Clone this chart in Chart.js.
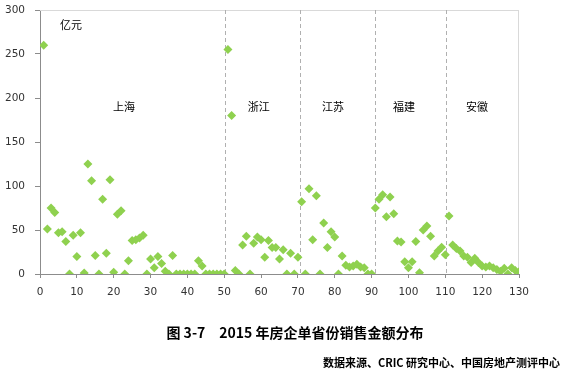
<!DOCTYPE html>
<html lang="zh-CN">
<head>
<meta charset="UTF-8">
<title>2015 年房企单省份销售金额分布</title>
<script src="https://cdn.jsdelivr.net/npm/chart.js"></script>
<style>
  html, body { margin: 0; padding: 0; background: #fff; }
  #wrap { position: relative; width: 564px; height: 373px; }
  #wrap canvas { position: absolute; left: 0; top: 0; }
  .caption {
    position: absolute; left: 0; width: 564px; box-sizing: border-box;
    font-family: "Noto Sans CJK SC", sans-serif; font-weight: bold; color: #000;
  }
  #title { top: 322px; text-align: center; font-size: 14px; padding-left: 26px; }
  #source { top: 354px; text-align: right; font-size: 11px; padding-right: 4px; }
</style>
</head>
<body>
<div id="wrap">
  <canvas id="salesChart" width="564" height="373"></canvas>
  <div id="title" class="caption">图 3-7　2015 年房企单省份销售金额分布</div>
  <div id="source" class="caption">数据来源、CRIC 研究中心、中国房地产测评中心</div>
</div>

<script>
  // 各省房企销售金额（亿元），按省份分组，依序编号 1..130
  const shanghai = [260, 51, 75, 70, 47, 48, 37, 0, 44, 20,
                    47, 1, 125, 106, 21, 0, 85, 23.5, 107, 2,
                    68, 72, 0, 15, 38, 39, 41, 44, 0, 17,
                    7, 20, 12, 3, 0, 21, 0, 0, 0, 0,
                    0, 0, 15, 9, 0, 0, 0, 0, 0, 0];
  const zhejiang = [255, 180, 4, 0, 33, 43, 0, 35, 42, 39,
                    19, 38, 30, 30, 17, 27.5, 0, 23.5, 0, 19];
  const jiangsu  = [82, 0, 97, 39, 89, 0, 58, 30, 48, 42,
                    0, 20.5, 10, 8, 9, 11, 8, 7, 0, 0];
  const fujian   = [75, 85, 90, 65, 87.5, 68.5, 37.5, 36.5, 14, 7,
                    14, 37, 1.5, 50, 54.5, 43, 20.5, 26, 30.5, 22];
  const anhui    = [66, 33, 29, 26, 20.5, 19, 13, 18, 13, 9,
                    8, 9, 7, 5, 3, 6.5, 0, 7, 4, 2.6];

  const provinces   = ['上海', '浙江', '江苏', '福建', '安徽'];
  const provLabelX  = [22.8, 59.4, 79.5, 98.8, 118.6];
  const provLabelY  = 190;
  const dividers    = [50.2, 70.5, 90.8, 110.1];
  const unitLabel   = '亿元';

  const allValues = [].concat(shanghai, zhejiang, jiangsu, fujian, anhui);
  const points = allValues.map((v, i) => ({ x: i + 1, y: v }));

  const tickFont = { family: 'DejaVu Sans', size: 10.5 };

  const overlay = {
    id: 'overlay',
    beforeDatasetsDraw(chart) {
      const { ctx, chartArea: a, scales: { x } } = chart;
      ctx.save();
      ctx.strokeStyle = '#d9d9d9';
      ctx.lineWidth = 1;
      ctx.beginPath();
      ctx.moveTo(a.left, a.top + 0.5);
      ctx.lineTo(a.right, a.top + 0.5);
      ctx.moveTo(a.right - 0.5, a.top);
      ctx.lineTo(a.right - 0.5, a.bottom);
      ctx.stroke();

      ctx.strokeStyle = '#b0b0b0';
      ctx.setLineDash([4, 3]);
      dividers.forEach(d => {
        const px = Math.round(x.getPixelForValue(d)) + 0.5;
        ctx.beginPath();
        ctx.moveTo(px, a.top);
        ctx.lineTo(px, a.bottom);
        ctx.stroke();
      });
      ctx.restore();
    },
    afterDraw(chart) {
      const { ctx, scales: { x, y } } = chart;
      ctx.save();
      ctx.fillStyle = '#000';
      ctx.font = '11px "Noto Sans CJK SC"';
      ctx.textAlign = 'center';
      ctx.textBaseline = 'middle';
      provinces.forEach((p, i) => {
        ctx.fillText(p, x.getPixelForValue(provLabelX[i]), y.getPixelForValue(provLabelY));
      });
      ctx.fillText(unitLabel, x.getPixelForValue(8.4), y.getPixelForValue(283));
      ctx.restore();
    }
  };

  const ctx = document.getElementById('salesChart').getContext('2d');
  new Chart(ctx, {
    type: 'scatter',
    data: {
      datasets: [{
        data: points,
        pointStyle: 'rectRot',
        pointRadius: 4.5,
        pointHoverRadius: 4.5,
        backgroundColor: '#8fd14f',
        borderColor: '#8fd14f',
        borderWidth: 0
      }]
    },
    options: {
      responsive: false,
      animation: false,
      layout: { padding: { top: 10, right: 45, bottom: 71, left: 0 } },
      plugins: {
        legend: { display: false },
        tooltip: { enabled: false }
      },
      scales: {
        x: {
          type: 'linear',
          min: 0,
          max: 130,
          ticks: { stepSize: 10, font: tickFont, color: '#333', padding: 8 },
          grid: { drawOnChartArea: false, tickLength: 4, color: '#8c8c8c' },
          border: { color: '#8c8c8c' },
          afterFit(s) { s.height = 28; s.paddingLeft = 0; s.paddingRight = 0; }
        },
        y: {
          min: 0,
          max: 300,
          ticks: { stepSize: 50, font: tickFont, color: '#333', padding: 10 },
          grid: { drawOnChartArea: false, tickLength: 5, color: '#8c8c8c' },
          border: { color: '#8c8c8c' },
          afterFit(s) { s.width = 40; s.paddingTop = 0; s.paddingBottom = 0; }
        }
      }
    },
    plugins: [overlay]
  });
</script>
</body>
</html>
